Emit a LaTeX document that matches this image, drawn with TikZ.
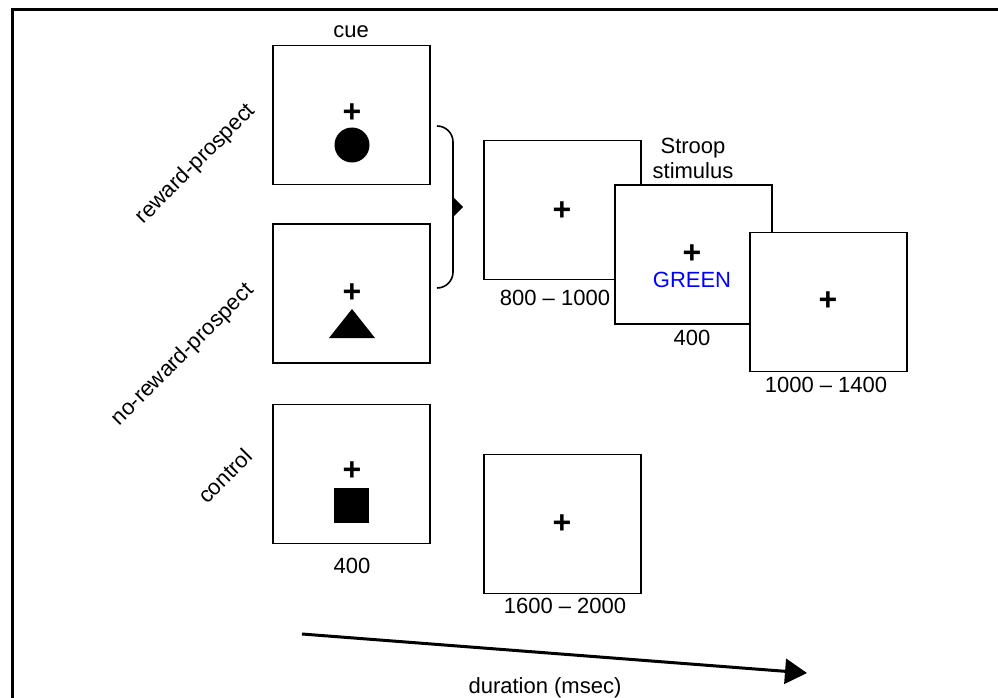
\documentclass[tikz,border=0pt]{standalone}
\usepackage{fontspec}
\setmainfont{Liberation Sans}
\usetikzlibrary{arrows.meta}
\tikzset{
  scr/.style={draw, fill=white, line width=1.4pt, minimum width=157pt, minimum height=139pt, inner sep=0pt},
  lbl/.style={font=\fontsize{22}{25}\selectfont, inner sep=0pt},
  fixx/.style={font=\fontsize{32}{32}\selectfont\bfseries, inner sep=0pt},
  frameline/.style={line width=3pt},
}
\begin{document}
\begin{tikzpicture}[x=1pt,y=-1pt]
\useasboundingbox (0,0) rectangle (998,698);
% frame
\coordinate (f1) at (998,10);
\coordinate (f2) at (12,10);
\coordinate (f3) at (12,698);
\draw[frameline] (f1) -- (f2) -- (f3);
% cue boxes
\node[scr] (c1) at (351.5,115) {};
\node[scr] (c2) at (351.5,293.5) {};
\node[scr] (c3) at (351.5,474) {};
\node[lbl] (cuel) at (351,32) {cue};
\node[lbl] (c3t) at (352,566) {400};
\node[fixx] (p1) at (352,113) {+};
\node[fixx] (p2) at (352,293) {+};
\node[fixx] (p3) at (352,471) {+};
\fill (352,145) circle (17.5);
\fill (329,338) -- (352,309) -- (375,338) -- cycle;
\fill (334,488) rectangle (369,523);
% rotated labels
\node[lbl, rotate=45] (l1) at (196,164) {reward-prospect};
\node[lbl, rotate=45] (l2) at (183,355) {no-reward-prospect};
\node[lbl, rotate=45] (l3) at (225,476) {control};
% bracket
\coordinate (b1) at (437,126);
\coordinate (b2) at (453,142);
\coordinate (b3) at (453,272);
\coordinate (b4) at (437,288);
\draw[line width=1.6pt] (b1) to[out=0,in=90] (b2) -- (b3) to[out=-90,in=0] (b4);
\fill (452,196) -- (463,207) -- (452,218) -- cycle;
% reward / no-reward sequence
\node[scr] (fx) at (562.5,210) {};
\node[fixx] (pfx) at (562,211) {+};
\node[lbl] (fxt) at (555,298) {800 -- 1000};
\node[lbl, align=center] (stl) at (693,158) {Stroop\\stimulus};
\node[scr] (st) at (693.5,254.5) {};
\node[fixx] (pst) at (692,254) {+};
\node[lbl, text=blue] (grn) at (692,280) {GREEN};
\node[lbl] (stt) at (692,338) {400};
\node[scr] (po) at (828.5,302) {};
\node[fixx] (ppo) at (828,301) {+};
\node[lbl] (pot) at (826,385) {1000 -- 1400};
% control sequence
\node[scr] (it) at (562.5,524) {};
\node[fixx] (pit) at (562,524) {+};
\node[lbl] (itt) at (565,606) {1600 -- 2000};
% time arrow
\coordinate (a1) at (302,634);
\coordinate (a2) at (807,673);
\draw[line width=3pt, -{Triangle[length=22pt,width=25pt]}] (a1) -- (a2);
\node[lbl] (dur) at (545,688) {duration (msec)};
\end{tikzpicture}
\end{document}
